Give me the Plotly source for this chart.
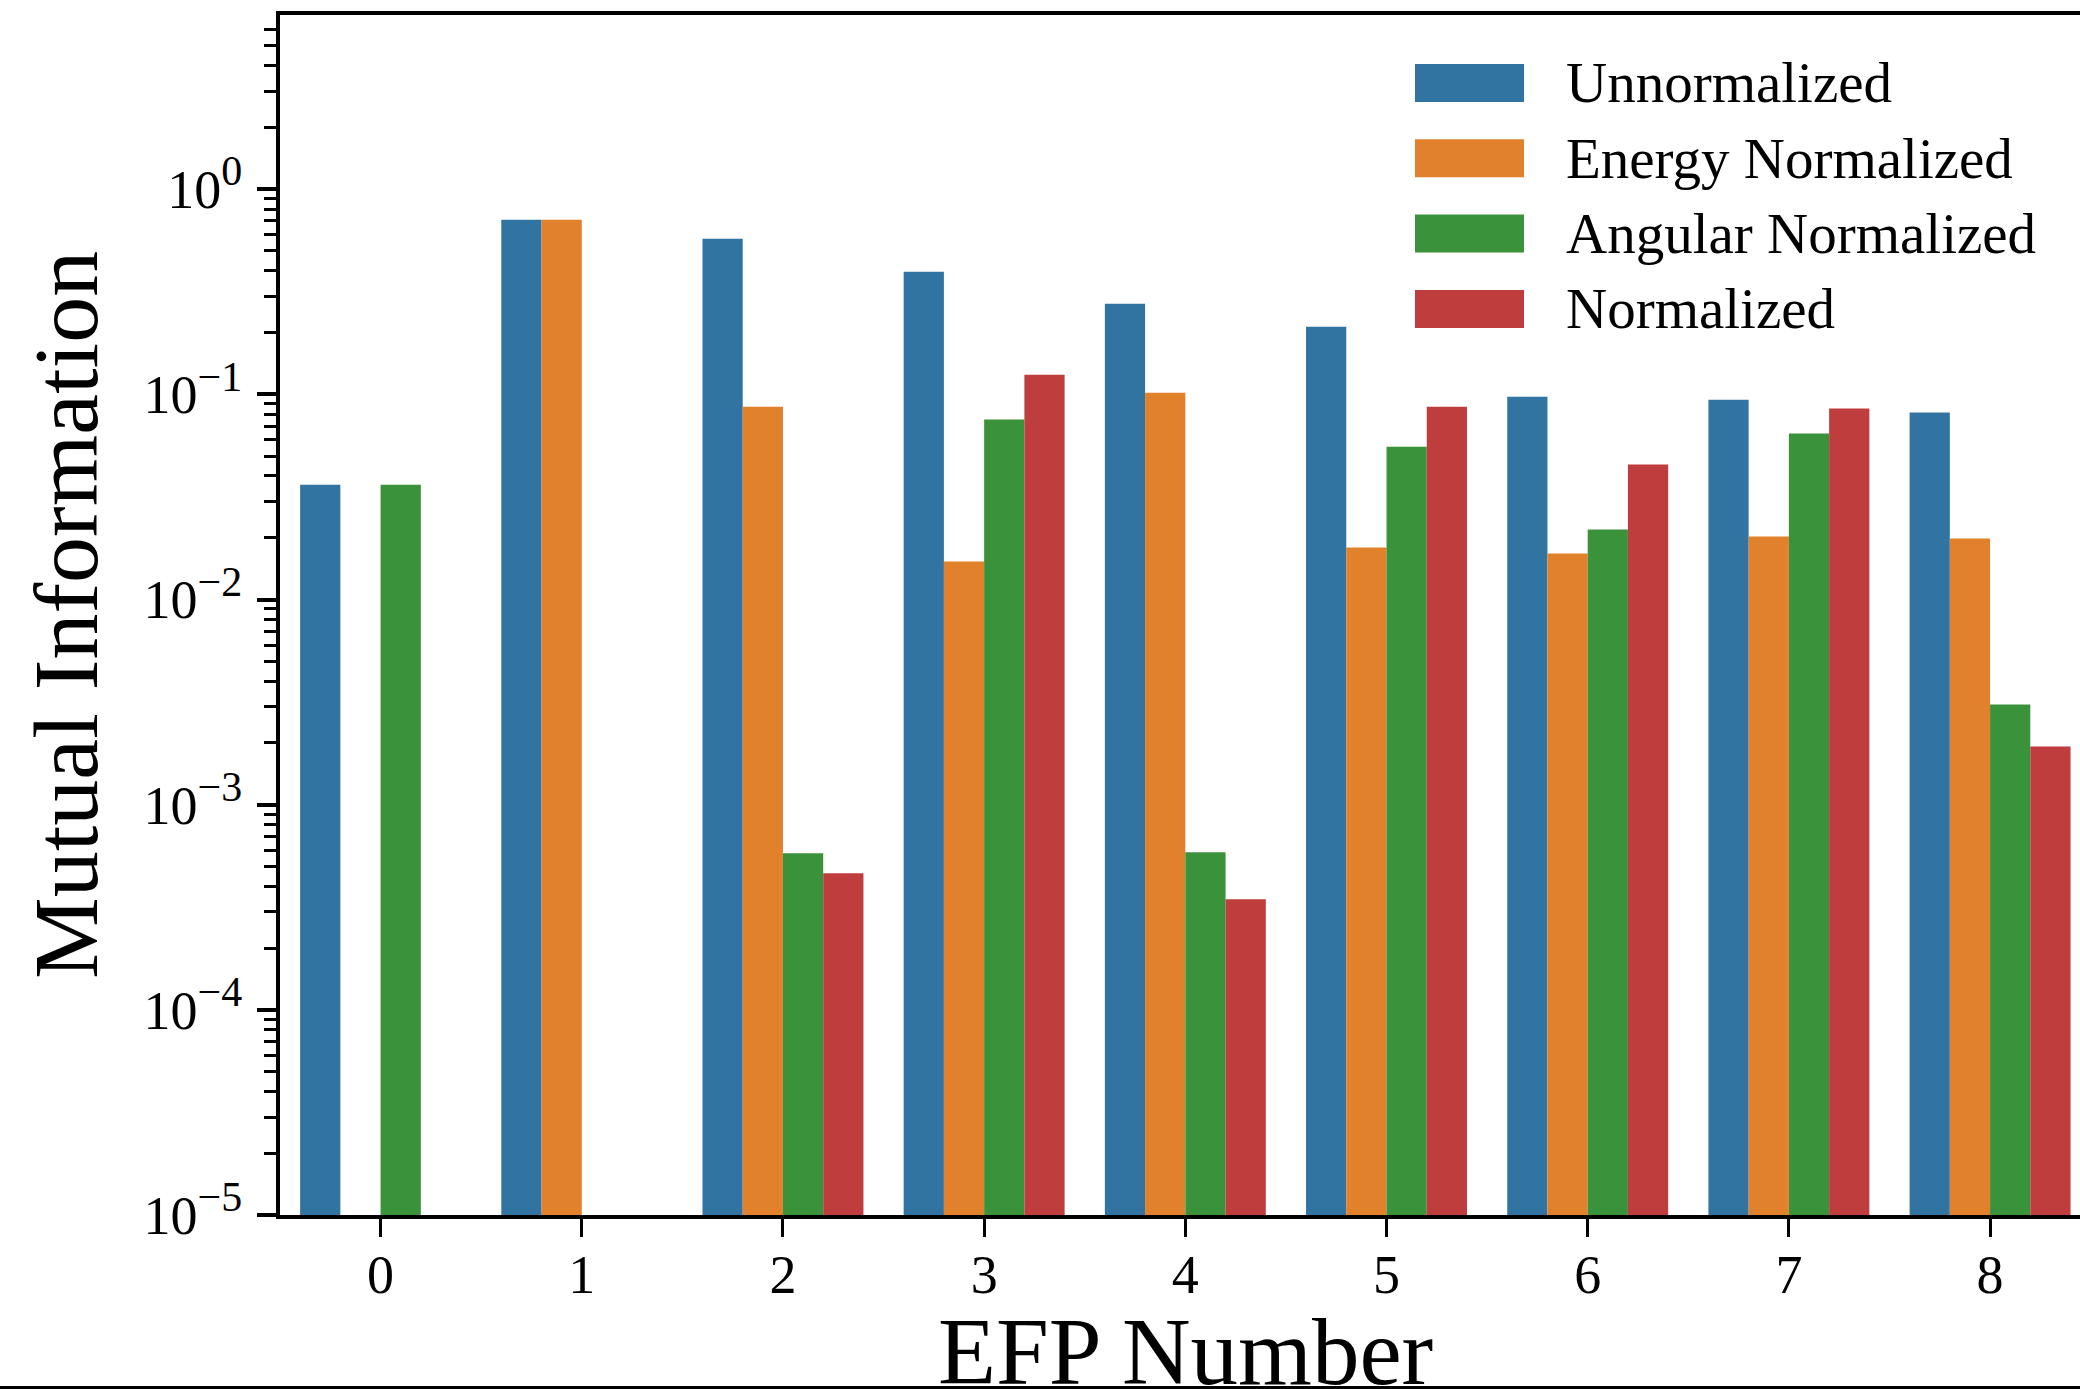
import plotly.graph_objects as go

# Mutual information of each EFP under four normalization schemes
efp_numbers = [0, 1, 2, 3, 4, 5, 6, 7, 8]
unnormalized = [0.0363, 0.710, 0.573, 0.396, 0.2765, 0.2137, 0.0974, 0.0942, 0.0815]
energy_normalized = [None, 0.710, 0.0871, 0.01531, 0.1019, 0.01792, 0.01675, 0.02027, 0.01982]
angular_normalized = [0.0363, None, 0.000579, 0.0753, 0.000586, 0.0556, 0.02193, 0.0644, 0.003082]
normalized = [None, None, 0.000463, 0.1247, 0.000346, 0.0871, 0.0455, 0.0852, 0.001922]

series_names = ["Unnormalized", "Energy Normalized", "Angular Normalized", "Normalized"]
series_values = [unnormalized, energy_normalized, angular_normalized, normalized]
series_colors = ["#3274a1", "#e1812c", "#3a923a", "#c03d3e"]

y_tick_values = [1e-5, 1e-4, 1e-3, 1e-2, 1e-1, 1]
y_tick_exponents = ["−5", "−4", "−3", "−2", "−1", "0"]
x_tick_labels = [str(n) for n in efp_numbers]

# canvas / plot-area geometry (pixels)
W, H = 2080, 1389
L, R, T, B = 280, 0, 15, 174
PW, PH = W - L - R, H - T - B
FONT = "Liberation Serif"
SUP_STYLE = "font-size:42px"
y_tick_labels = [f'10<sup><span style="{SUP_STYLE}">{e}</span></sup>' for e in y_tick_exponents]


def px_x(px):
    return (px - L) / PW


def px_y(py):
    return (H - B - py) / PH


fig = go.Figure()
for name, vals, col in zip(series_names, series_values, series_colors):
    fig.add_trace(go.Bar(
        x=efp_numbers, y=vals, name=name,
        marker=dict(color=col, line=dict(width=0)),
        showlegend=False,
    ))

# log-scale minor ticks at 2..9 x each decade
minor_vals = [k * 10.0 ** e for e in range(-5, 1) for k in range(2, 10) if k * 10.0 ** e < 7.0]

fig.update_layout(
    width=W, height=H,
    margin=dict(l=L, r=R, t=T, b=B, pad=0),
    paper_bgcolor="white", plot_bgcolor="white",
    barmode="group", bargap=0.2, bargroupgap=0,
    font=dict(family=FONT, color="black", size=54),
    showlegend=False,
)

fig.update_xaxes(
    range=[-0.5, 8.447],
    tickmode="array", tickvals=efp_numbers, ticktext=x_tick_labels,
    ticks="outside", ticklen=18, tickwidth=3, tickcolor="black",
    showline=True, linewidth=4, linecolor="black", mirror=True,
    showgrid=False, zeroline=False,
    tickfont=dict(family=FONT, size=54, color="black"),
    ticklabelstandoff=-9,
)

fig.update_yaxes(
    type="log", range=[-5, 0.849],
    tickmode="array", tickvals=y_tick_values, ticktext=y_tick_labels,
    ticks="outside", ticklen=19, tickwidth=4, tickcolor="black",
    minor=dict(tickmode="array", tickvals=minor_vals, ticks="outside",
               ticklen=12, tickwidth=2.5, tickcolor="black", showgrid=False),
    showline=True, linewidth=4, linecolor="black", mirror=False,
    showgrid=False, zeroline=False,
    tickfont=dict(family=FONT, size=54, color="black"),
    ticklabelstandoff=4,
)

# axis titles
fig.add_annotation(
    text="EFP Number", x=4, xref="x", y=px_y(1352), yref="paper",
    xanchor="center", yanchor="middle", showarrow=False,
    font=dict(family=FONT, size=95, color="black"),
)
fig.add_annotation(
    text="Mutual Information", x=px_x(66), xref="paper", y=0.5, yref="paper",
    xanchor="center", yanchor="middle", textangle=-90, showarrow=False,
    font=dict(family=FONT, size=92, color="black"),
)

# legend: large colour swatches with labels
row0, row_step, sw_h = 83, 75.3, 38
for i, (name, col) in enumerate(zip(series_names, series_colors)):
    cy = row0 + i * row_step
    fig.add_shape(
        type="rect", xref="paper", yref="paper",
        x0=px_x(1415), x1=px_x(1524), y0=px_y(cy + sw_h / 2), y1=px_y(cy - sw_h / 2),
        fillcolor=col, line=dict(width=0), layer="above",
    )
    fig.add_annotation(
        text=name, x=px_x(1564), xref="paper", y=px_y(cy), yref="paper",
        xanchor="left", yanchor="middle", showarrow=False,
        font=dict(family=FONT, size=57, color="black"),
    )

# frame rule along the bottom edge of the figure
fig.add_shape(
    type="line", xref="paper", yref="paper",
    x0=px_x(0), x1=px_x(W), y0=px_y(1387.5), y1=px_y(1387.5),
    line=dict(color="black", width=3),
)

fig.write_html("out.html")
